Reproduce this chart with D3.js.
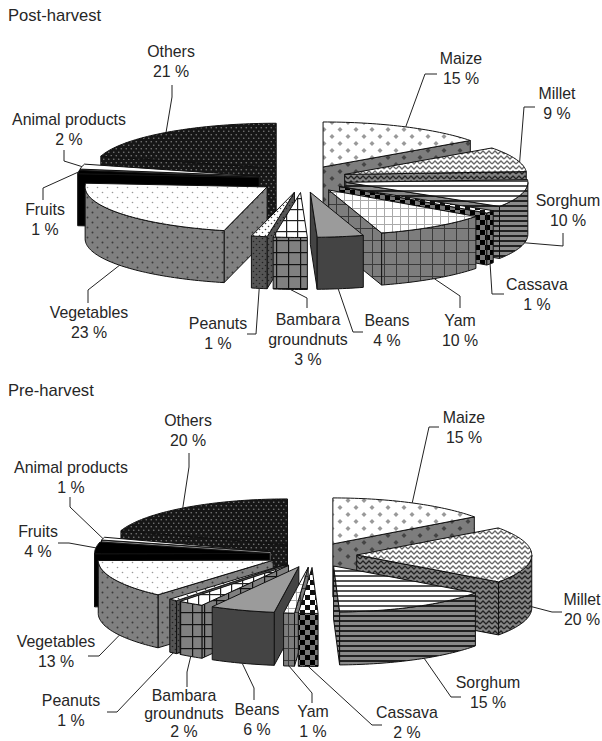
<!DOCTYPE html>
<html>
<head>
<meta charset="utf-8">
<script src="https://cdn.jsdelivr.net/npm/d3@7"></script>
<style>
  html, body { margin: 0; padding: 0; background: #fff; overflow: hidden; }
  svg { display: block; }
  text { font-family: "Liberation Sans", Arial, sans-serif; font-size: 15.9px; fill: #262626; }
  .title { font-size: 16.6px; }
</style>
</head>
<body>
<svg id="chart" width="602" height="741"></svg>
<script>
// Slices run clockwise from twelve o'clock. Values are estimated off the picture,
// the printed labels are these rounded
const crops = ["Maize", "Millet", "Sorghum", "Cassava", "Yam", "Beans", "Bambara groundnuts",
  "Peanuts", "Vegetables", "Fruits", "Animal products", "Others"];
const postHarvest = [15, 9, 10, 1, 10.3, 4.1, 3, 1.4, 22.5, 1.2, 1.8, 20.7];
const preHarvest = [15, 20, 14.5, 1.8, 1, 6, 2.4, 0.8, 13.45, 4.15, 1, 20];

// Label centre and first baseline, then the leader's free end and elbow,
// then where the leader lands on the slice: fraction along the arc, fraction of the depth.
// Optional last value is a tighter line step
const postLabels = [
  [461, 64, [437, 74], [425, 74], .5, 0],
  [557, 99, [535, 107], [524, 107], .62, 0],
  [568, 206, [563, 233], [563, 246], .4, 1],
  [537, 290, [504, 294], [492, 294], .5, 1],
  [460, 326, [460, 308], [460, 296], .5, 1],
  [387, 326, [363, 332], [353, 332], .55, 1],
  [308, 325, [307, 308], [307, 298], .5, 1],
  [218, 329, [247, 334], [256, 334], .5, 1],
  [89, 318, [88, 303], [88, 290], .5, 1],
  [45, 215, [43, 200], [43, 188], .5, 0],
  [69, 125, [64, 150], [64, 161], .5, 0],
  [171, 57, [172, 85], [172, 97], .5, 0]
];
const preLabels = [
  [464, 423, [439, 427], [429, 427], .5, 0],
  [582, 605, [562, 612], [552, 612], .65, .8],
  [488, 688, [461, 697], [451, 697], .44, 1],
  [407, 718, [382, 725], [372, 725], .5, 1],
  [313, 717, [312, 703], [312, 693], .5, 1],
  [257, 715, [254, 700], [254, 688], .5, 1],
  [184, 701, [187, 687], [187, 672], .5, 1, 18],
  [71, 706, [107, 712], [117, 712], .5, 1],
  [56, 647, [88, 656], [99, 656], .42, 1],
  [38, 537, [58, 543], [69, 543], .5, 0],
  [71, 473, [70, 497], [70, 507], .5, 0],
  [188, 426, [189, 453], [189, 467], .49, 0]
];

const svg = d3.select("#chart");
const defs = svg.append("defs");
const lineStep = 20;

// Tile helpers for the fill patterns
function tile(id, w, h, bg, draw) {
  const p = defs.append("pattern")
    .attr("id", id)
    .attr("patternUnits", "userSpaceOnUse")
    .attr("width", w)
    .attr("height", h);
  p.append("rect").attr("width", w).attr("height", h).attr("fill", bg);
  draw(p);
}
const dots = (r, col, w, h) => p => {
  p.append("circle").attr("cx", w / 4).attr("cy", h / 4).attr("r", r).attr("fill", col);
  p.append("circle").attr("cx", w * 3 / 4).attr("cy", h * 3 / 4).attr("r", r).attr("fill", col);
};
const diamonds = (col) => p => {
  p.append("path").attr("d", "M4 1L6.5 3.5L4 6L1.5 3.5Z").attr("fill", col);
  p.append("path").attr("d", "M12 8L14.5 10.5L12 13L9.5 10.5Z").attr("fill", col);
};
const waves = (col) => p => {
  p.append("path").attr("d", "M0 4L3 1L6 4L9 1L12 4").attr("fill", "none").attr("stroke", col).attr("stroke-width", 1.3);
};
const stripes = (col, sw) => p => {
  p.append("rect").attr("y", 0).attr("width", 6).attr("height", sw).attr("fill", col);
};
const grid = (col, sw, s) => p => {
  p.append("rect").attr("width", s).attr("height", sw).attr("fill", col);
  p.append("rect").attr("width", sw).attr("height", s).attr("fill", col);
};
const checks = (col, s) => p => {
  p.append("rect").attr("width", s).attr("height", s).attr("fill", col);
  p.append("rect").attr("x", s).attr("y", s).attr("width", s).attr("height", s).attr("fill", col);
};

tile("maizeTop", 16, 14, "#fff", diamonds("#999"));
tile("maizeSide", 16, 14, "#7d7d7d", diamonds("#444"));
tile("milletTop", 12, 5, "#fff", waves("#666"));
tile("milletSide", 12, 5, "#858585", waves("#222"));
tile("sorghumTop", 6, 5, "#fff", stripes("#555", 2));
tile("sorghumSide", 6, 5, "#8a8a8a", stripes("#222", 2));
tile("cassavaTop", 10, 10, "#fff", checks("#111", 5));
tile("cassavaSide", 10, 10, "#777", checks("#000", 5));
tile("yamTop", 8, 8, "#fff", grid("#aaa", 1, 8));
tile("yamSide", 12, 12, "#7d7d7d", grid("#3a3a3a", 1, 12));
tile("bambaraTop", 11, 11, "#fff", grid("#222", 1.2, 11));
tile("bambaraSide", 12, 12, "#808080", grid("#111", 1.2, 12));
tile("peanutTop", 6, 6, "#fff", dots(.8, "#444", 6, 6));
tile("peanutSide", 6, 6, "#555", dots(.8, "#222", 6, 6));
tile("vegTop", 10, 10, "#fff", dots(.8, "#999", 10, 10));
tile("vegSide", 10, 10, "#808080", dots(1, "#3a3a3a", 10, 10));
tile("otherFill", 5, 7, "#161616", dots(.8, "#7a7a7a", 5, 7));

// Fills per crop: top face, then the side faces, darker as in the original
const cropFills = [
  ["url(#maizeTop)", "url(#maizeSide)"],
  ["url(#milletTop)", "url(#milletSide)"],
  ["url(#sorghumTop)", "url(#sorghumSide)"],
  ["url(#cassavaTop)", "url(#cassavaSide)"],
  ["url(#yamTop)", "url(#yamSide)"],
  ["#9b9b9b", "#444"],
  ["url(#bambaraTop)", "url(#bambaraSide)"],
  ["url(#peanutTop)", "url(#peanutSide)"],
  ["url(#vegTop)", "url(#vegSide)"],
  ["#000", "#000"],
  ["#fff", "#888"],
  ["url(#otherFill)", "url(#otherFill)"]
];

const line = d3.line();

function drawPie(cfg) {
  const g = svg.append("g");
  g.append("text").attr("class", "title").attr("x", 8).attr("y", cfg.titleY).text(cfg.title);

  // Unit disc -> page, a flat ellipse for the tilted view
  const x = d3.scaleLinear().domain([-1, 1]).range([cfg.cx - cfg.rx, cfg.cx + cfg.rx]);
  const y = d3.scaleLinear().domain([-1, 1]).range([cfg.cy + cfg.ry, cfg.cy - cfg.ry]);

  const arcs = d3.pie().sort(null)(cfg.values).map((a, i) => {
    const mid = (a.startAngle + a.endAngle) / 2;
    return {
      i,
      value: a.value,
      a0: a.startAngle,
      a1: a.endAngle,
      mid,
      ox: cfg.explodeX * Math.sin(mid),
      oy: cfg.explodeY * Math.cos(mid)
    };
  });

  const rim = (d, t, level) => [
    x(d.ox + Math.sin(t)),
    y(d.oy + Math.cos(t)) + level * cfg.depth
  ];
  const apex = (d, level) => [x(d.ox), y(d.oy) + level * cfg.depth];
  const samples = (t0, t1) => {
    const n = Math.max(2, Math.ceil((t1 - t0) * 40));
    return d3.range(n + 1).map(k => t0 + (t1 - t0) * k / n);
  };

  // Painter's order, far slices first
  const order = arcs.slice().sort((a, b) => Math.cos(b.mid) - Math.cos(a.mid));

  order.forEach(d => {
    const s = g.append("g");
    const fills = cropFills[d.i];
    const face = (pts, fill) => s.append("path")
      .attr("d", line(pts) + "Z")
      .attr("fill", fill)
      .attr("stroke", "#111")
      .attr("stroke-width", 1)
      .attr("stroke-linejoin", "round");

    // cut faces, only the ones turned towards the viewer
    if (Math.sin(d.a0) < 0) {
      face([apex(d, 0), rim(d, d.a0, 0), rim(d, d.a0, 1), apex(d, 1)], fills[1]);
    }
    if (Math.sin(d.a1) > 0) {
      face([apex(d, 0), rim(d, d.a1, 0), rim(d, d.a1, 1), apex(d, 1)], fills[1]);
    }
    // outer wall, front half of the rim only
    const t0 = Math.max(d.a0, Math.PI / 2);
    const t1 = Math.min(d.a1, Math.PI * 3 / 2);
    if (t1 > t0) {
      const ts = samples(t0, t1);
      face(ts.map(t => rim(d, t, 0)).concat(ts.slice().reverse().map(t => rim(d, t, 1))), fills[1]);
    }
    // top face
    face([apex(d, 0)].concat(samples(d.a0, d.a1).map(t => rim(d, t, 0))), fills[0]);
  });

  // Labels and leaders go over everything
  arcs.forEach(d => {
    const [lx, ly, free, elbow, frac, level, step] = cfg.labels[d.i];
    const end = rim(d, d.a0 + (d.a1 - d.a0) * frac, level);
    g.append("path")
      .attr("d", line([free, elbow, end]))
      .attr("fill", "none")
      .attr("stroke", "#222")
      .attr("stroke-width", 1);

    const rows = crops[d.i] === "Bambara groundnuts"
      ? ["Bambara", "groundnuts"] : [crops[d.i]];
    rows.push(Math.round(d.value) + " %");
    const t = g.append("text").attr("text-anchor", "middle");
    rows.forEach((row, k) => {
      t.append("tspan").attr("x", lx).attr("y", ly + k * (step || lineStep)).text(row);
    });
  });
}

drawPie({
  title: "Post-harvest", titleY: 21,
  values: postHarvest, labels: postLabels,
  cx: 303, cy: 179, rx: 182, ry: 45, depth: 52, explodeX: .243, explodeY: .3
});
drawPie({
  title: "Pre-harvest", titleY: 396,
  values: preHarvest, labels: preLabels,
  cx: 313, cy: 555, rx: 175, ry: 46, depth: 53, explodeX: .25, explodeY: .27
});
</script>
</body>
</html>
